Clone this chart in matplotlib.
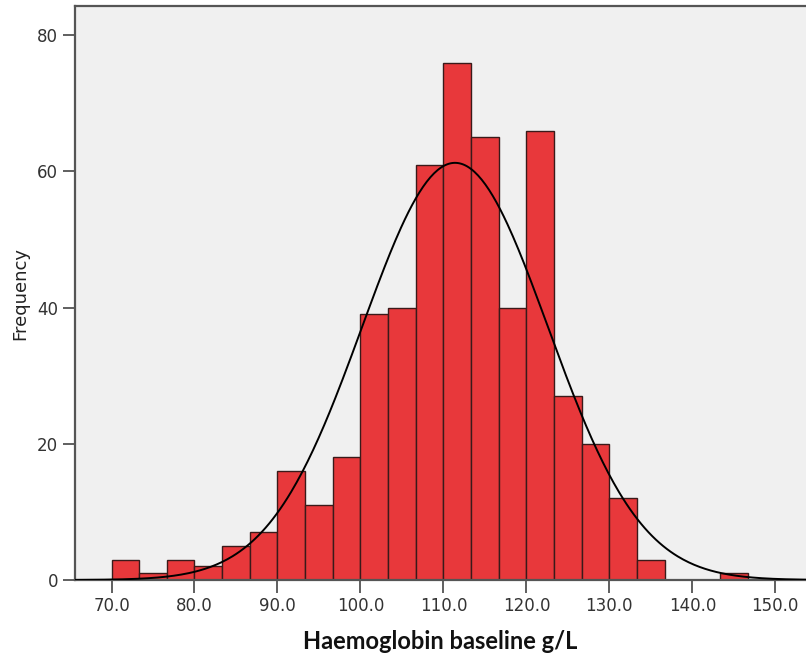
import numpy as np
import matplotlib.pyplot as plt

plt.rcParams['font.family'] = ['DejaVu Sans']

# histogram of baseline haemoglobin, bins of 10/3 g/L starting at 70
bin_start = 70.0
bin_width = 10.0 / 3.0
counts = [3, 1, 3, 2, 5, 7, 16, 11, 18, 39, 40, 61, 76, 65, 40, 66, 27, 20, 12, 3, 0, 0, 1]

# fitted normal curve parameters
mean_hb = 111.4
sd_hb = 11.2

x_ticks = [70, 80, 90, 100, 110, 120, 130, 140, 150]
y_ticks = [0, 20, 40, 60, 80]

edges = bin_start + bin_width * np.arange(len(counts) + 1)
n_total = sum(counts)

fig = plt.figure(figsize=(8.06, 6.56), dpi=100)
ax = fig.add_axes([75 / 806, 76 / 656, 731 / 806, 574 / 656])
ax.set_facecolor('#f0f0f0')

ax.bar(edges[:-1], counts, width=bin_width, align='edge', color='#e8383b',
       edgecolor='#3a1a1a', linewidth=1.0, zorder=2)

xs = np.linspace(65.6, 153.7, 400)
ys = n_total * bin_width / (sd_hb * np.sqrt(2 * np.pi)) * np.exp(-0.5 * ((xs - mean_hb) / sd_hb) ** 2)
ax.plot(xs, ys, color='black', linewidth=1.4, zorder=3)

ax.set_xlim(65.6, 153.7)
ax.set_ylim(0, 84.3)
ax.set_xticks(x_ticks)
ax.set_xticklabels(['%.1f' % t for t in x_ticks])
ax.set_yticks(y_ticks)

ax.tick_params(axis='both', length=9, width=1.2, color='#444444', labelcolor='#333333',
               labelsize=12, pad=3, labelfontfamily='DejaVu Sans')
for side in ['left', 'top', 'bottom']:
    ax.spines[side].set_color('#555555')
    ax.spines[side].set_linewidth(1.6)
ax.spines['right'].set_visible(False)

ax.set_xlabel('Haemoglobin baseline g/L', fontsize=17, fontweight='bold', family='Lato',
              color='#111111', labelpad=11)
ax.set_ylabel('Frequency', fontsize=13, color='#222222', labelpad=6, family='DejaVu Sans')

fig.savefig('out.png', dpi=100)
